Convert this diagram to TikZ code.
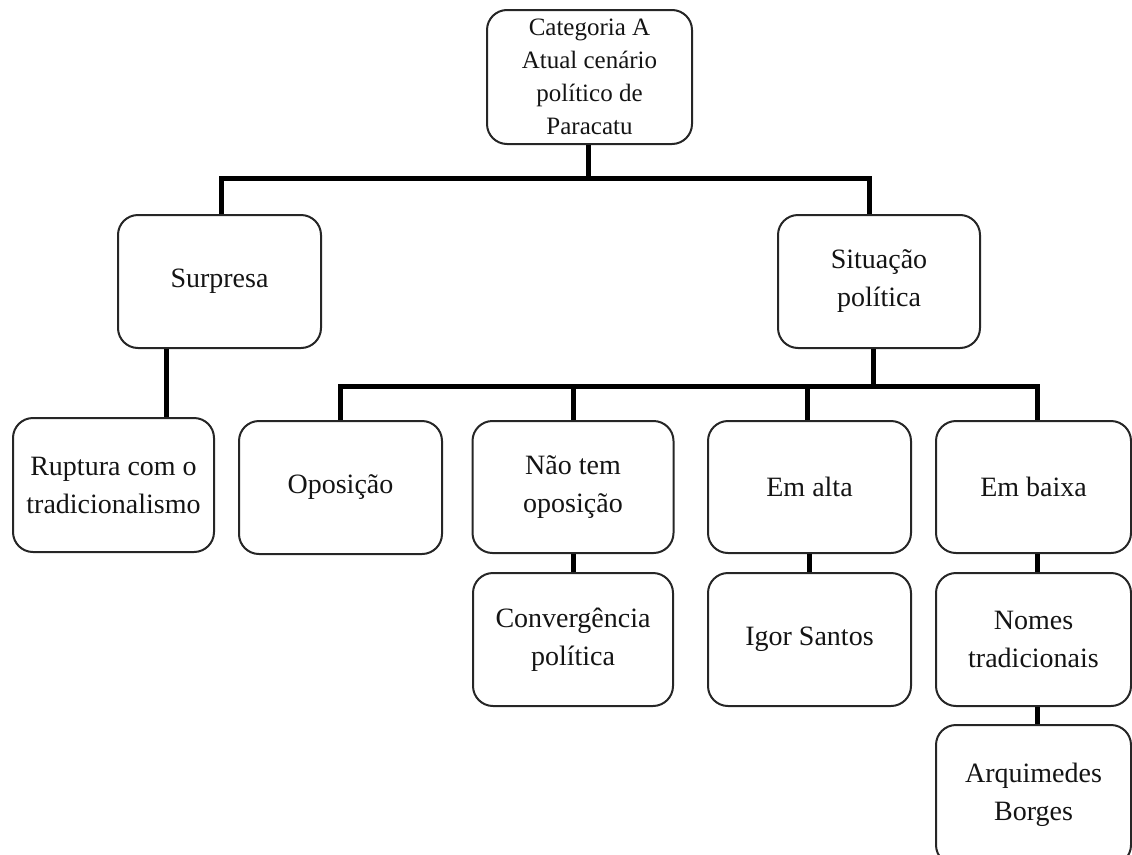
\documentclass[tikz,border=0pt]{standalone}
\usepackage{fontspec}
\setmainfont{Liberation Serif}
\usetikzlibrary{calc}
\tikzset{
  box/.style={draw=black!85, line width=2pt, rounded corners=20pt, inner sep=0pt,
    align=center, text=black!92, font=\fontsize{28}{38}\selectfont},
  conn/.style={line width=5pt, black, line join=miter}
}
\begin{document}
\begin{tikzpicture}[x=1pt, y=-1pt]
  \useasboundingbox (0,0) rectangle (1132,854);
  % boxes
  \node[box, minimum width=205pt, minimum height=134pt, font=\fontsize{25}{33}\selectfont]
    (top) at (589.5,77) {Categoria A\\Atual cenário\\político de\\Paracatu};
  \node[box, minimum width=203pt, minimum height=133pt] (surp) at (219.5,281.5) {Surpresa};
  \node[box, minimum width=202pt, minimum height=133pt] (sit) at (879,281.5) {Situação\\política};
  \node[box, minimum width=201pt, minimum height=134pt] (rupt) at (113.5,485) {Ruptura com o\\tradicionalismo};
  \node[box, minimum width=203pt, minimum height=133pt] (opos) at (340.5,487.5) {Oposição};
  \node[box, minimum width=201pt, minimum height=132pt] (nao) at (573,487) {Não tem\\oposição};
  \node[box, minimum width=203pt, minimum height=132pt] (alta) at (809.5,487) {Em alta};
  \node[box, minimum width=195pt, minimum height=132pt] (baixa) at (1033.5,487) {Em baixa};
  \node[box, minimum width=200pt, minimum height=133pt] (conv) at (573,639.5) {Convergência\\política};
  \node[box, minimum width=203pt, minimum height=133pt] (igor) at (809.5,639.5) {Igor Santos};
  \node[box, minimum width=195pt, minimum height=133pt] (nomes) at (1033.5,639.5) {Nomes\\tradicionais};
  \node[box, minimum width=195pt, minimum height=140pt] (arq) at (1033.5,795) {Arquimedes\\Borges};
  % attachment points of the connectors
  \coordinate (j1) at ($(top.south)+(-1,33)$);
  \coordinate (sitIn) at ($(sit.north)+(-10,0)$);
  \coordinate (sitOut) at ($(sit.south)+(-6,0)$);
  \coordinate (j2) at ($(sitOut)+(0,37)$);
  \coordinate (baixaIn) at ($(baixa.north)+(4,0)$);
  \coordinate (baixaOut) at ($(baixa.south)+(4,0)$);
  % first level
  \draw[conn] (top.south -| j1) -- (j1);
  \draw[conn] ($(surp.north)+(2,0)$) |- (j1) -| (sitIn);
  % second level
  \draw[conn] (sitOut) -- (j2);
  \draw[conn] (opos.north) |- (j2) -| (baixaIn);
  \draw[conn] (nao.north) -- (nao.north |- j2);
  \draw[conn] ($(alta.north)+(-2,0)$) -- ($(alta.north |- j2)+(-2,0)$);
  % Surpresa to its single child
  \draw[conn] ($(surp.south)!0.5!(surp.south -| rupt.north)$) -- ($(rupt.north)!0.5!(rupt.north -| surp.south)$);
  % lower chains
  \draw[conn] (nao.south) -- (conv.north);
  \draw[conn] (alta.south) -- (igor.north);
  \draw[conn] (baixaOut) -- (baixaOut |- nomes.north);
  \draw[conn] (nomes.south -| baixaOut) -- (baixaOut |- arq.north);
\end{tikzpicture}
\end{document}
